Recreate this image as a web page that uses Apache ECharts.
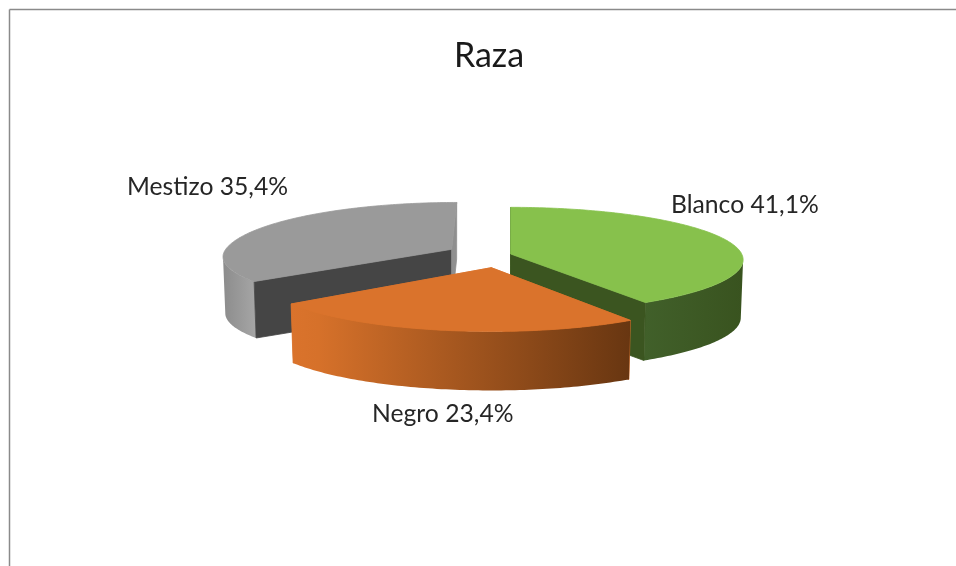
<!DOCTYPE html>
<html>
<head>
<meta charset="utf-8">
<style>html,body{margin:0;padding:0;background:#fff}#c{width:956px;height:566px}</style>
<script src="https://cdn.jsdelivr.net/npm/echarts@6/dist/echarts.min.js"></script>
</head>
<body>
<div id="c"></div>
<script>
const titleText = 'Raza';
const categories = ['Blanco', 'Negro', 'Mestizo'];
const percents = [41.1, 23.4, 35.4];

// Layout and style, kept apart from the data
const centre = { x: 481, y: 258 };
const bottomScale = 0.99;
const paintOrder = [2, 0, 1];
const sliceStyle = [
  { explode: [29.7, -4], skew: 0, r: 231, ry: 51.8, ryFront: 51.8, p: 0.11, depth: 58,
    top: '#87c14c', startWall: '#3b5520', endWall: '#3b5520',
    outer: [[0, '#41602a'], [1, '#39531f']], label: [671, 205] },
  { explode: [10.3, 9.7], skew: 0, r: 229, ry: 54, ryFront: 54, p: 0.153, depth: 59,
    top: '#da732c', startWall: '#da732c', endWall: '#da732c',
    outer: [[0, '#da732c'], [0.08, '#d6712a'], [1, '#683611']], label: [372, 414] },
  { explode: [-29.3, -8.7], skew: 5, r: 226, ry: 54, ryFront: 47.9, p: 0.153, depth: 56.5,
    top: '#9a9a9a', startWall: '#454545', endWall: '#8f8f8f',
    outer: [[0, '#8c8c8c'], [1, '#a6a6a6']], label: [127, 187] }
];

const total = percents.reduce((a, b) => a + b, 0);
const startAngles = percents.map((_, i) =>
  percents.slice(0, i).reduce((a, b) => a + b, 0) / total * 360);

function project(deg, apex, st, drop, scale) {
  const t = deg * Math.PI / 180, X = Math.sin(t), Z = Math.cos(t);
  const s = 1 / (1 + st.p * Z);
  return [
    apex[0] + (st.r * X * s + st.skew * Math.max(Z, 0)) * scale,
    apex[1] - (Z > 0 ? st.ry : st.ryFront) * Z * s + drop
  ];
}
function arc(a0, a1, apex, st, drop, scale) {
  const pts = [], n = Math.max(1, Math.ceil(a1 - a0));
  for (let i = 0; i <= n; i++) pts.push(project(a0 + (a1 - a0) * i / n, apex, st, drop, scale));
  return pts;
}
function gradient(stops) {
  return { type: 'linear', x: 0, y: 0, x2: 1, y2: 0, global: false,
    colorStops: stops.map(s => ({ offset: s[0], color: s[1] })) };
}
function poly(points, fill, edge) {
  return { type: 'polygon', shape: { points },
    style: { fill, stroke: edge || null, lineWidth: edge ? 0.8 : 0 } };
}

function renderSlice(params, api) {
  const idx = api.value(0), share = api.value(1), start = api.value(2);
  const a0 = start, a1 = start + share / total * 360;
  const st = sliceStyle[idx];
  const apex = [centre.x + st.explode[0], centre.y + st.explode[1]];
  const rimTop = arc(a0, a1, apex, st, 0, 1);
  const rimBottom = arc(a0, a1, apex, st, st.depth, bottomScale);
  const apexBottom = [apex[0], apex[1] + st.depth];

  // The curved wall is only seen on the front of the rim, between the two silhouette angles.
  const fold = Math.acos(-st.p) * 180 / Math.PI;
  const f0 = Math.max(a0, fold), f1 = Math.min(a1, 360 - fold);
  const frontTop = arc(f0, f1, apex, st, 0, 1);
  const frontBottom = arc(f0, f1, apex, st, st.depth, bottomScale);

  const startFace = poly([apex, rimTop[0], rimBottom[0], apexBottom], st.startWall, st.startWall);
  const endFace = poly([apex, rimTop[rimTop.length - 1], rimBottom[rimBottom.length - 1], apexBottom], st.endWall, st.endWall);
  const startSeen = Math.sin(a0 * Math.PI / 180) < 1e-6;
  const endSeen = Math.sin(a1 * Math.PI / 180) > -1e-2;
  const children = [];
  if (!startSeen) children.push(startFace);
  if (!endSeen) children.push(endFace);
  children.push(poly(frontTop.concat(frontBottom.slice().reverse()), gradient(st.outer)));
  if (startSeen) children.push(startFace);
  if (endSeen) children.push(endFace);
  children.push(poly([apex].concat(rimTop), st.top, st.top));
  children.push({ type: 'text', style: {
    text: categories[idx] + ' ' + percents[idx].toFixed(1).replace('.', ',') + '%',
    x: st.label[0], y: st.label[1], align: 'left', verticalAlign: 'middle',
    font: '24.7px Lato, "Open Sans", sans-serif', fill: '#262626' } });
  return { type: 'group', children };
}

const rows = paintOrder.map(i => [i, percents[i], startAngles[i]]);
const chart = echarts.init(document.getElementById('c'), null, { renderer: 'canvas' });
chart.setOption({
  animation: false,
  backgroundColor: '#ffffff',
  title: { text: titleText, left: 484, top: 34, textAlign: 'center',
    textStyle: { fontFamily: 'Lato, "Open Sans", sans-serif', fontSize: 34, fontWeight: 'normal', color: '#1a1a1a' } },
  graphic: [
    { type: 'line', shape: { x1: 9.5, y1: 9.5, x2: 956, y2: 9.5 }, style: { stroke: '#8a8a8a', lineWidth: 1.5 } },
    { type: 'line', shape: { x1: 9.5, y1: 9.5, x2: 9.5, y2: 566 }, style: { stroke: '#8a8a8a', lineWidth: 1.5 } }
  ],
  series: [{ type: 'custom', coordinateSystem: 'none', renderItem: renderSlice, data: rows, silent: true }]
});
</script>
</body>
</html>
